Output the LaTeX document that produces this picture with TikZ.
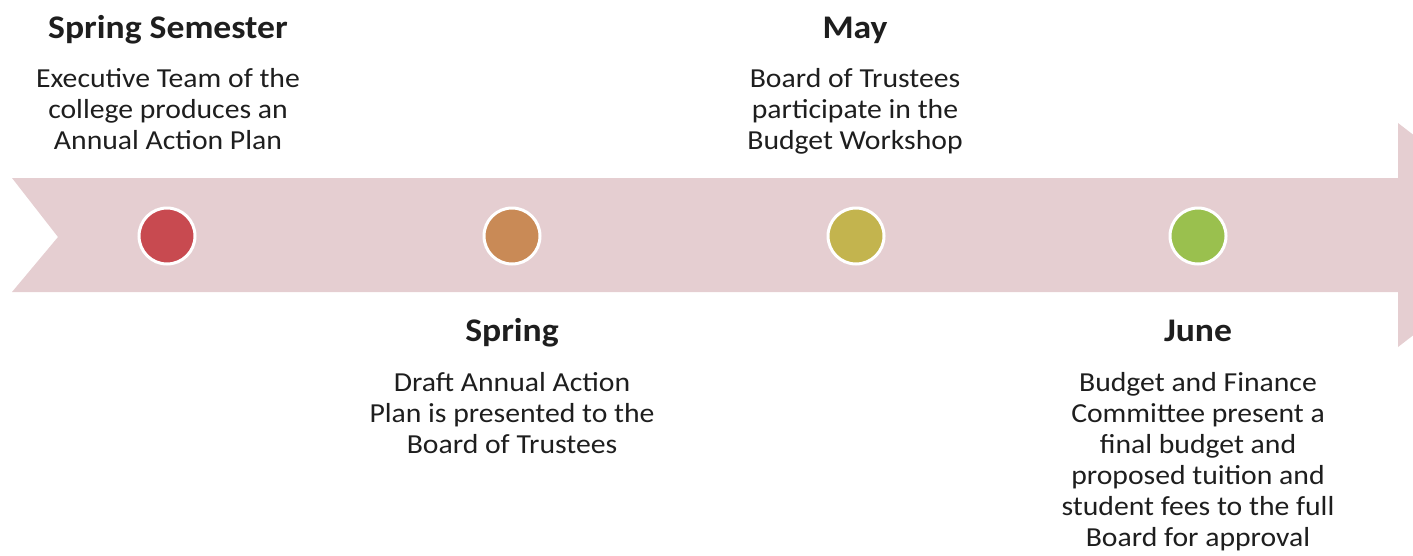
\documentclass[tikz,border=0pt]{standalone}
\usepackage{fontspec}
\setmainfont{Carlito}[FakeStretch=1.08]
\usetikzlibrary{positioning}
\tikzstyle{timeline} = [x = 1pt, y = -1pt]
\definecolor{bandColor}{RGB}{229,206,209}
\definecolor{textColor}{RGB}{30,30,30}
\definecolor{dotRed}{RGB}{200,74,80}
\definecolor{dotOrange}{RGB}{201,138,86}
\definecolor{dotOlive}{RGB}{195,180,78}
\definecolor{dotGreen}{RGB}{154,192,78}
\tikzstyle{bandStyle} = [fill=bandColor]
\tikzstyle{dotStyle} = [circle, draw=white, line width=3pt, minimum size=56pt, inner sep=0pt]
\tikzstyle{titleText} = [font=\fontsize{33}{36}\selectfont\bfseries, text=textColor, inner sep=0pt, text height=24pt, text depth=7pt]
\tikzstyle{bodyText} = [font=\fontsize{27.5}{31}\selectfont, align=center, text=textColor, inner sep=0pt]
\newcommand{\milestone}[3]{\node [dotStyle, fill=#3] (#1) at (#2, 236) {};}
\newcommand{\eventTitle}[4]{\node [titleText] (#1) at (#2, #3) {#4};}
\newcommand{\eventBody}[3]{\node [bodyText, below = 23pt of #2] (#1) {#3};}

\begin{document}
\begin{tikzpicture}[timeline]
  \useasboundingbox (0,0) rectangle (1413,555);
  % the band with its notch and head
  \fill [bandStyle] (12,178) -- (1398,178) -- (1398,123) -- (1543,235)
    -- (1398,347) -- (1398,292) -- (12,292) -- (58,237) -- cycle;

  \milestone{semDot}{167}{dotRed}
  \milestone{springDot}{512}{dotOrange}
  \milestone{mayDot}{856}{dotOlive}
  \milestone{juneDot}{1198}{dotGreen}

  \eventTitle{semTitle}{168}{30}{Spring Semester}
  \eventBody{semBody}{semTitle}{Executive Team of the\\college produces an\\Annual Action Plan}

  \eventTitle{mayTitle}{855}{30}{May}
  \eventBody{mayBody}{mayTitle}{Board of Trustees\\participate in the\\Budget Workshop}

  \eventTitle{springTitle}{512}{333}{Spring}
  \eventBody{springBody}{springTitle}{Draft Annual Action\\Plan is presented to the\\Board of Trustees}

  \eventTitle{juneTitle}{1198}{333}{June}
  \eventBody{juneBody}{juneTitle}{Budget and Finance\\Committee present a\\final budget and\\proposed tuition and\\student fees to the full\\Board for approval}
\end{tikzpicture}
\end{document}
